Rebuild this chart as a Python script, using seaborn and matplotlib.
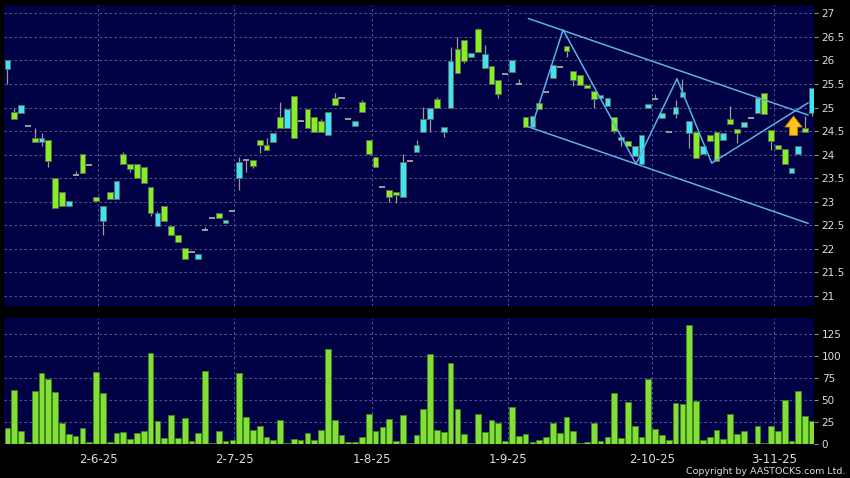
import matplotlib.pyplot as plt
import numpy as np
import seaborn as sns

# 日线数据（按交易日序号 0..118 排列）
opens = [
    25.81, 24.90, 24.89, 24.60, 24.35, 24.26, 24.30, 23.50, 23.20, 22.90,
    23.57, 24.01, 23.78, 23.09, 22.60, 23.20, 23.05, 24.01, 23.80, 23.79,
    23.74, 23.31, 22.49, 22.90, 22.49, 22.30, 22.01, 21.93, 21.79, 22.40,
    22.65, 22.75, 22.54, 22.80, 23.50, 23.88, 23.89, 24.30, 24.20, 24.26,
    24.79, 24.56, 25.25, 24.71, 24.96, 24.79, 24.71, 24.41, 25.20, 25.20,
    24.76, 24.60, 25.11, 24.30, 23.94, 23.31, 23.24, 23.20, 23.11, 23.86,
    24.06, 24.49, 24.75, 25.19, 24.47, 24.98, 26.25, 26.44, 26.07, 26.66,
    25.83, 25.89, 25.59, 25.72, 25.75, 25.49, 24.79, 24.59, 25.10, 25.33,
    25.62, 25.85, 26.30, 25.77, 25.68, 25.48, 25.36, 25.20, 25.03, 24.79,
    24.30, 24.28, 23.96, 23.79, 25.00, 25.18, 24.78, 24.47, 24.86, 25.23,
    24.45, 24.47, 24.01, 24.42, 24.49, 24.32, 24.75, 24.55, 24.59, 24.78,
    24.88, 25.30, 24.52, 24.21, 24.11, 23.60, 24.01, 24.57, 24.89,
]
highs = [
    26.00, 25.00, 25.05, 24.60, 24.57, 24.45, 24.30, 23.50, 23.20, 23.01,
    23.65, 24.01, 23.78, 23.09, 22.90, 23.20, 23.45, 24.05, 23.80, 23.79,
    23.74, 23.31, 22.81, 22.90, 22.49, 22.30, 22.01, 21.93, 21.90, 22.46,
    22.65, 22.75, 22.61, 22.80, 23.94, 23.88, 23.89, 24.30, 24.35, 24.45,
    25.12, 24.96, 25.25, 24.71, 24.96, 24.79, 24.76, 24.90, 25.30, 25.20,
    24.76, 24.71, 25.16, 24.30, 23.94, 23.31, 23.24, 23.20, 24.01, 23.86,
    24.31, 25.02, 24.98, 25.23, 24.58, 26.29, 26.50, 26.44, 26.16, 26.68,
    26.33, 25.89, 25.59, 25.72, 26.00, 25.60, 24.79, 24.81, 25.10, 25.33,
    25.90, 25.85, 26.30, 25.77, 25.68, 25.48, 25.36, 25.27, 25.21, 24.79,
    24.38, 24.28, 24.19, 24.42, 25.08, 25.29, 24.88, 24.47, 25.16, 25.60,
    24.72, 24.47, 24.19, 24.42, 24.49, 24.45, 25.03, 24.55, 24.70, 24.78,
    25.20, 25.30, 24.52, 24.21, 24.11, 23.71, 24.19, 24.81, 25.41,
]
lows = [
    25.49, 24.75, 24.89, 24.60, 24.26, 24.19, 23.74, 22.86, 22.90, 22.90,
    23.57, 23.60, 23.78, 23.01, 22.29, 23.05, 23.05, 23.79, 23.64, 23.50,
    23.40, 22.70, 22.49, 22.60, 22.30, 22.15, 21.79, 21.93, 21.79, 22.40,
    22.65, 22.65, 22.54, 22.80, 23.24, 23.64, 23.71, 24.04, 24.09, 24.26,
    24.56, 24.56, 24.35, 24.71, 24.56, 24.49, 24.49, 24.41, 25.05, 25.20,
    24.76, 24.60, 24.90, 24.01, 23.74, 23.31, 23.00, 22.98, 23.11, 23.86,
    24.06, 24.49, 24.49, 25.00, 24.38, 24.98, 25.74, 25.94, 26.07, 26.17,
    25.83, 25.50, 25.21, 25.72, 25.75, 25.49, 24.59, 24.59, 24.96, 25.33,
    25.62, 25.85, 26.07, 25.46, 25.48, 25.41, 25.00, 25.20, 25.03, 24.45,
    24.19, 24.19, 23.96, 23.79, 25.00, 25.18, 24.78, 24.47, 24.78, 25.23,
    24.15, 23.92, 24.01, 24.29, 23.87, 24.32, 24.65, 24.25, 24.59, 24.78,
    24.88, 24.86, 24.10, 24.11, 23.80, 23.60, 24.01, 24.49, 24.82,
]
closes = [
    26.00, 24.75, 25.05, 24.60, 24.26, 24.35, 23.86, 22.86, 22.90, 23.01,
    23.57, 23.60, 23.78, 23.01, 22.90, 23.05, 23.45, 23.79, 23.70, 23.50,
    23.40, 22.75, 22.75, 22.60, 22.30, 22.15, 21.79, 21.93, 21.90, 22.40,
    22.65, 22.65, 22.61, 22.80, 23.85, 23.88, 23.76, 24.20, 24.09, 24.45,
    24.56, 24.96, 24.35, 24.71, 24.56, 24.49, 24.49, 24.90, 25.05, 25.20,
    24.76, 24.71, 24.90, 24.01, 23.74, 23.31, 23.09, 23.14, 23.85, 23.86,
    24.20, 24.75, 24.98, 25.00, 24.58, 25.98, 25.74, 25.98, 26.16, 26.17,
    26.13, 25.50, 25.28, 25.72, 26.00, 25.49, 24.59, 24.81, 24.96, 25.33,
    25.90, 25.85, 26.19, 25.58, 25.48, 25.41, 25.17, 25.27, 25.21, 24.50,
    24.38, 24.19, 24.19, 24.42, 25.08, 25.18, 24.88, 24.47, 25.02, 25.32,
    24.72, 23.92, 24.19, 24.29, 23.87, 24.45, 24.65, 24.45, 24.70, 24.78,
    25.20, 24.86, 24.28, 24.11, 23.80, 23.71, 24.19, 24.49, 25.41,
]
volumes = [
    18.3, 61.4, 14.1, 1.5, 59.8, 80.4, 73.6, 59.1, 23.2, 11.1,
    9.1, 18.3, 1.5, 81.9, 58.3, 2.3, 12.6, 13.3, 5.3, 12.6,
    14.9, 103.3, 25.9, 6.5, 32.4, 6.5, 29.7, 3.0, 12.2, 83.1,
    0.4, 14.1, 2.7, 4.2, 80.4, 30.5, 16.0, 20.6, 7.2, 3.8,
    26.7, 0.8, 5.3, 4.2, 12.2, 3.8, 15.2, 107.5, 26.7, 9.5,
    2.3, 1.9, 7.2, 34.3, 14.5, 18.7, 27.8, 2.7, 32.4, 1.1,
    9.9, 39.3, 102.1, 15.2, 13.0, 91.5, 39.3, 11.1, 0.8, 33.5,
    13.3, 27.4, 23.6, 2.7, 41.5, 9.1, 10.7, 1.5, 3.8, 7.2,
    23.6, 12.2, 30.1, 14.5, 0.4, 1.5, 23.6, 2.7, 7.2, 58.3,
    6.9, 47.3, 20.6, 8.0, 73.9, 16.8, 9.9, 3.8, 46.9, 45.0,
    135.3, 48.4, 3.8, 7.6, 16.0, 5.7, 33.9, 11.1, 14.5, 0.4,
    19.8, 0.8, 19.8, 14.5, 49.5, 2.7, 59.8, 32.0, 25.5,
]

# 日期刻度（交易日序号位置）
date_labels = ["2-6-25", "2-7-25", "1-8-25", "1-9-25", "2-10-25", "3-11-25"]
date_pos = [13.3, 33.3, 53.4, 73.4, 94.5, 112.5]

price_ticks = [21, 21.5, 22, 22.5, 23, 23.5, 24, 24.5, 25, 25.5, 26, 26.5, 27]
price_labels = ["21", "21.5", "22", "22.5", "23", "23.5", "24", "24.5", "25", "25.5", "26", "26.5", "27"]
vol_ticks = [0, 25, 50, 75, 100, 125]

# 通道线和折线（画在图上的趋势线）
upper_x = [76.4, 117.45]
upper_y = [26.89, 24.84]
lower_x = [76.4, 117.45]
lower_y = [24.59, 22.54]
zigzag_x = [76.9, 81.5, 92.2, 98.2, 103.3, 117.45]
zigzag_y = [24.59, 26.65, 23.80, 25.61, 23.82, 25.10]

# 箭头位置
arrow_x = 115.3
arrow_bottom = 24.35
arrow_top = 24.88

sns.set_style("dark")
plt.rcParams["font.family"] = ["DejaVu Sans"]

bg = "#000044"
grid_c = "#62629a"
up_c = "#3ee4f4"
down_c = "#84f020"
text_c = "#dcdcdc"

idx = np.arange(len(opens))
o = np.array(opens)
c = np.array(closes)

fig = plt.figure(figsize=(8.5, 4.78), dpi=100, facecolor="black")
ax = fig.add_axes([4 / 850, 1 - 306 / 478, 810 / 850, 301 / 478])
axv = fig.add_axes([4 / 850, 1 - 444 / 478, 810 / 850, 126 / 478])

for a in (ax, axv):
    a.set_facecolor(bg)
    for s in a.spines.values():
        s.set_visible(False)
    a.set_axisbelow(True)

# --- K线 ---
ax.vlines(idx, lows, highs, color="#9a9a9a", linewidth=0.9, zorder=2)
body = o != c
colors = np.where(c > o, up_c, down_c)
ax.bar(idx[body], (c - o)[body], bottom=o[body], width=0.84,
       color=colors[body], edgecolor="#5a6a5a", linewidth=0.7, zorder=3)
doji = ~body
ax.hlines(o[doji], idx[doji] - 0.45, idx[doji] + 0.45, color="#a8a8a8", linewidth=1.3, zorder=3)

# 趋势线
line_c = "#5ab0e6"
sns.lineplot(x=upper_x, y=upper_y, ax=ax, color=line_c, linewidth=1.1, zorder=4)
sns.lineplot(x=lower_x, y=lower_y, ax=ax, color=line_c, linewidth=1.1, zorder=4)
sns.lineplot(x=zigzag_x, y=zigzag_y, ax=ax, color=line_c, linewidth=1.1, zorder=4, sort=False)

# 黄色向上箭头
ax.annotate("", xy=(arrow_x, arrow_top), xytext=(arrow_x, arrow_bottom),
            arrowprops=dict(arrowstyle="simple,head_width=1.25,head_length=0.8,tail_width=0.6",
                            fc="#ffc21a", ec="#b07a00", lw=0.6), zorder=5)

ax.set_xlim(-0.5, 118.3)
ax.set_ylim(20.786, 27.176)
ax.set_xticks(date_pos)
ax.set_yticks(price_ticks)
ax.set_yticklabels(price_labels)
ax.yaxis.tick_right()
ax.tick_params(axis="x", length=0, labelbottom=False)
ax.tick_params(axis="y", length=3, width=0.8, color="#909090", labelcolor=text_c, labelsize=7.5, pad=2.5)
ax.grid(True, color=grid_c, linestyle=(0, (3, 3)), linewidth=0.6)
ax.set_xlabel("")
ax.set_ylabel("")

# --- 成交量 ---
sns.barplot(x=idx, y=volumes, native_scale=True, width=0.85, color="#80fa1e",
            edgecolor="#3d8a12", linewidth=0.6, errorbar=None, ax=axv, zorder=3)
axv.set_xlim(-0.5, 118.3)
axv.set_ylim(-0.3, 143.3)
axv.set_xticks(date_pos)
axv.set_xticklabels(date_labels)
axv.set_yticks(vol_ticks)
axv.yaxis.tick_right()
axv.tick_params(axis="x", length=2.5, width=0.8, color="#909090", labelcolor=text_c, labelsize=8.5, pad=4)
axv.tick_params(axis="y", length=3, width=0.8, color="#909090", labelcolor=text_c, labelsize=7.5, pad=2.5)
axv.grid(True, color=grid_c, linestyle=(0, (3, 3)), linewidth=0.6)
axv.set_xlabel("")
axv.set_ylabel("")

fig.text(0.995, 0.0132, "Copyright by AASTOCKS.com Ltd.", ha="right", va="center",
         color=text_c, fontsize=6.8)

fig.savefig("out.png", dpi=100, facecolor="black")
